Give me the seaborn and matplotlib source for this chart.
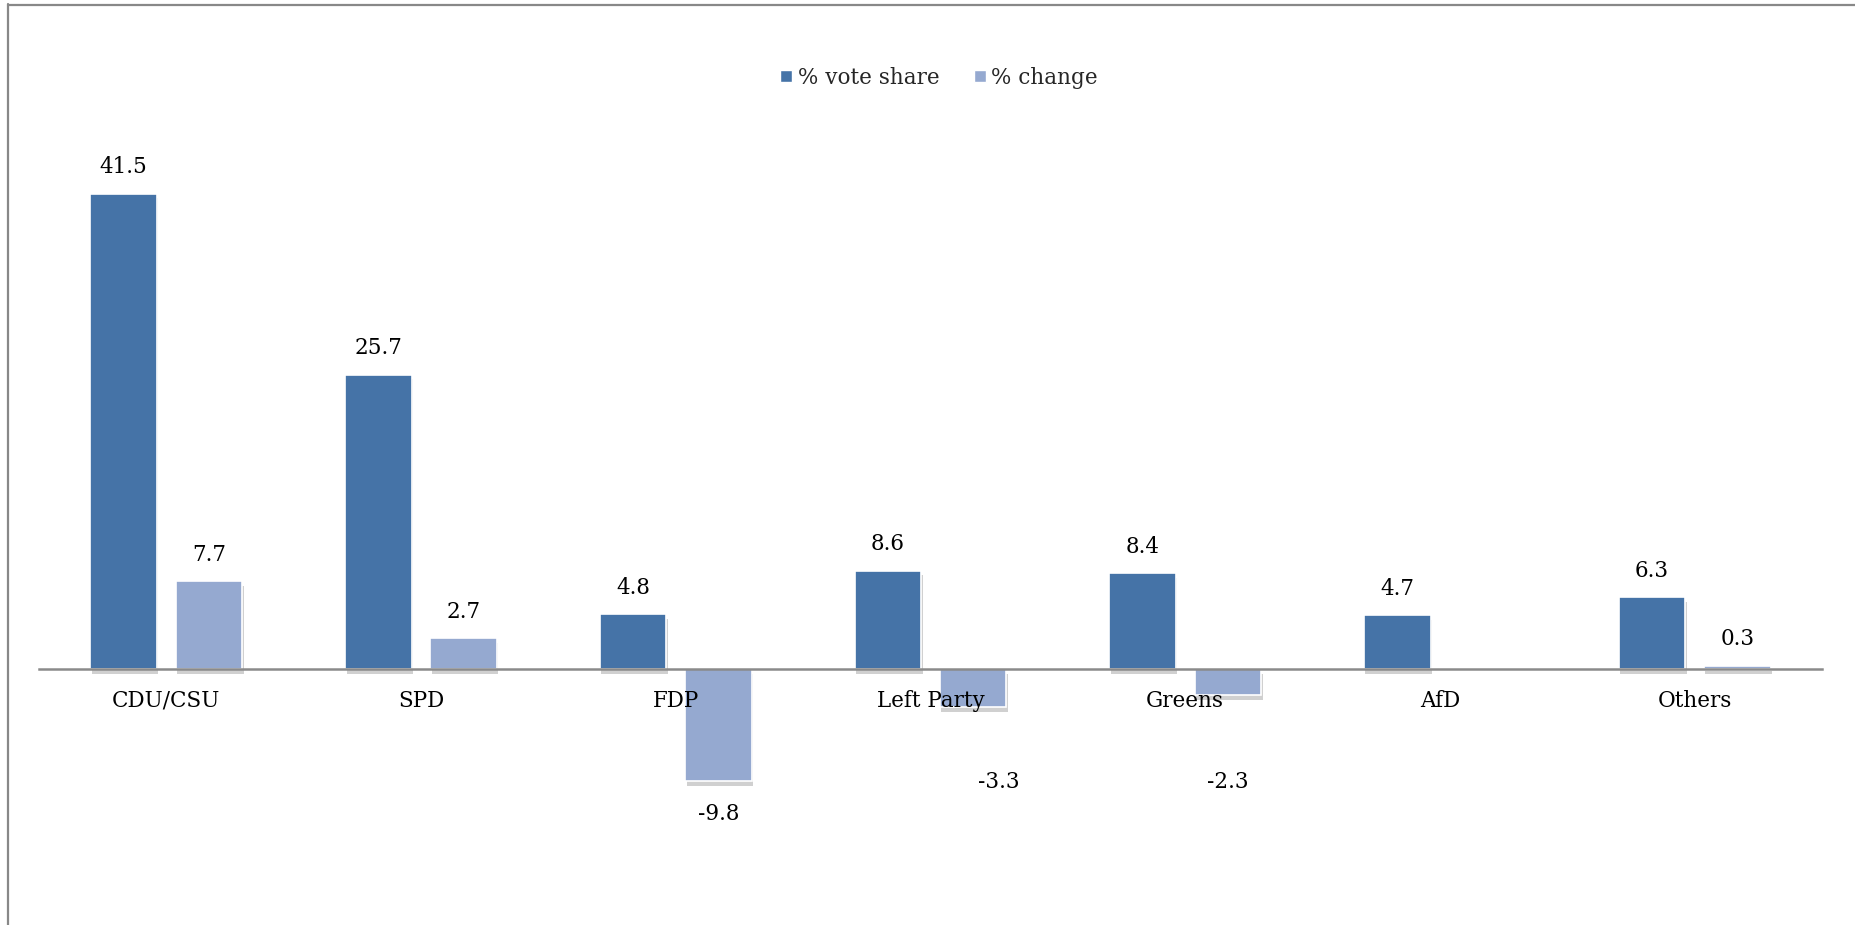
import numpy as np
import pandas as pd
import matplotlib
matplotlib.use("Agg")
import matplotlib.pyplot as plt
import matplotlib.patheffects as pe
from matplotlib.lines import Line2D
import seaborn as sns

parties = ["CDU/CSU", "SPD", "FDP", "Left Party", "Greens", "AfD", "Others"]
vote_share = [41.5, 25.7, 4.8, 8.6, 8.4, 4.7, 6.3]
change = [7.7, 2.7, -9.8, -3.3, -2.3, np.nan, 0.3]
series_names = ["% vote share", "% change"]
colors = ["#4573A7", "#95A9D0"]

rows = []
for p, v, c in zip(parties, vote_share, change):
    rows.append((p, series_names[0], v))
    if not np.isnan(c):
        rows.append((p, series_names[1], c))
df = pd.DataFrame(rows, columns=["party", "series", "value"])

sns.set_theme(style="white")
plt.rcParams["font.family"] = ["DejaVu Serif"]
FS = 15.5

fig = plt.figure(figsize=(18.56, 9.25), dpi=100)
ax = fig.add_axes([39/1856, 1-880/925, 1783/1856, 730/925])

sns.barplot(data=df, x="party", y="value", hue="series", order=parties,
            hue_order=series_names, palette=colors, saturation=1, width=0.67, gap=0.22,
            edgecolor="white", linewidth=1.2, errorbar=None, legend=False, ax=ax)

shadow = [pe.SimplePatchShadow(offset=(1, -3.5), shadow_rgbFace="#666666", alpha=0.3), pe.Normal()]
for cont in ax.containers:
    for patch in cont.patches:
        patch.set_path_effects(shadow)
        patch.set_zorder(1)

ax.set_axisbelow(False)
ax.xaxis.set_zorder(6)
ax.set_ylim(-18.4, 45.3)
ax.set_xlim(-0.5, len(parties) - 0.5)
for name, s in ax.spines.items():
    s.set_visible(False)
ax.spines["bottom"].set_visible(True)
ax.spines["bottom"].set_position(("data", 0))
ax.spines["bottom"].set_color("#8a8a8a")
ax.spines["bottom"].set_linewidth(1.8)
ax.spines["bottom"].set_zorder(5)
ax.set_yticks([])
ax.set_xlabel("")
ax.set_ylabel("")
ax.tick_params(axis="x", length=0, pad=15, labelsize=FS, colors="black")

# value labels
label_dx = {"Left Party": 0.1}
for ci, cont in enumerate(ax.containers):
    for patch in cont.patches:
        h = patch.get_height()
        if h is None or np.isnan(h):
            continue
        xc = patch.get_x() + patch.get_width() / 2
        idx = int(round(xc))
        if ci == 1:
            xc += label_dx.get(parties[idx], 0.0)
        if h >= 0:
            y = h + 2.3
        else:
            y = min(h, -7.0) - 2.86
        ax.text(xc, y, f"{h:.1f}", ha="center", va="center", fontsize=FS, color="black",
                zorder=7)

handles = [Line2D([], [], marker="s", linestyle="none", markersize=9,
                  markerfacecolor=c, markeredgecolor="white") for c in colors]
fig.legend(handles, series_names, loc="center", bbox_to_anchor=(0.505, 1 - 78/925),
           ncol=2, frameon=False, fontsize=FS, handletextpad=0.1,
           columnspacing=1.4, handlelength=0.9)

# outer frame lines (top and left)
fig.add_artist(Line2D([8/1856, 1], [1 - 4.5/925, 1 - 4.5/925], transform=fig.transFigure,
                      color="#888888", lw=1.6))
fig.add_artist(Line2D([8.5/1856, 8.5/1856], [0, 1 - 4/925], transform=fig.transFigure,
                      color="#888888", lw=1.6))

fig.savefig("out.png", dpi=100, facecolor="white")
